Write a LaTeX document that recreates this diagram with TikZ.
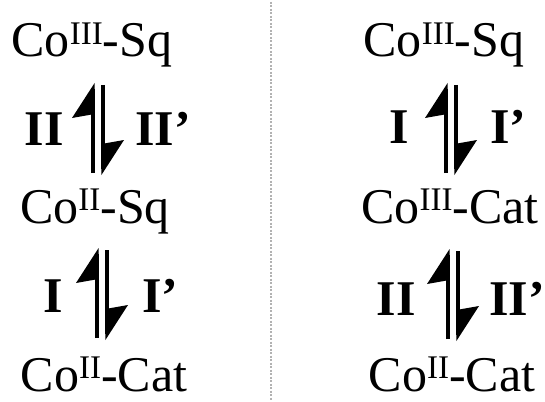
\documentclass[tikz,border=0pt]{standalone}
\usepackage{fontspec}
\setmainfont{Liberation Serif}
\usetikzlibrary{calc}
\tikzset{
  species/.style={inner sep=0pt, anchor=base, font=\fontsize{50}{56}\selectfont},
  lbl/.style={inner sep=0pt, font=\fontsize{50}{56}\selectfont\bfseries},
  bar/.style={line width=3.2pt},
  divider/.style={gray!60, line width=1.5pt, dash pattern=on 2pt off 1.5pt},
}
\newcommand\ox[1]{\raisebox{0.25em}{\fontsize{33}{33}\selectfont #1}}
% pair of harpoons around a centre coordinate: up on the left, down on the right
\newcommand\eqharp[1]{%
  \draw[bar] ($(#1)+(-5,44)$) -- ($(#1)+(-5,-40)$);
  \fill ($(#1)+(-3.4,-46)$) -- ($(#1)+(-26,-11)$) -- ($(#1)+(-3.4,-15)$) -- cycle;
  \draw[bar] ($(#1)+(5,-44)$) -- ($(#1)+(5,40)$);
  \fill ($(#1)+(3.4,46)$) -- ($(#1)+(26,11)$) -- ($(#1)+(3.4,15)$) -- cycle;
}

\begin{document}
\begin{tikzpicture}[x=1pt, y=-1pt]
  \useasboundingbox (0,0) rectangle (545,401);

  % divider
  \coordinate (dtop) at (271,2);
  \coordinate (dbot) at (271,400);
  \draw[divider] (dtop) -- (dbot);

  % left column
  \node[species] (l1) at (92,57) {Co\ox{III}-Sq};
  \node[species] (l2) at (95,223) {Co\ox{II}-Sq};
  \node[species] (l3) at (104,391) {Co\ox{II}-Cat};
  \coordinate (eqL1) at (98,129);
  \coordinate (eqL2) at (102,294);
  \eqharp{eqL1}
  \eqharp{eqL2}
  \node[lbl, anchor=base east] (l1a) at (64,145) {II};
  \node[lbl, anchor=base west] (l1b) at (135,145) {II'};
  \node[lbl, anchor=base east] (l2a) at (63,312) {I};
  \node[lbl, anchor=base west] (l2b) at (142,312) {I'};

  % right column
  \node[species] (r1) at (444,57) {Co\ox{III}-Sq};
  \node[species] (r2) at (450,223) {Co\ox{III}-Cat};
  \node[species] (r3) at (452,391) {Co\ox{II}-Cat};
  \coordinate (eqR1) at (451,129);
  \coordinate (eqR2) at (453,295);
  \eqharp{eqR1}
  \eqharp{eqR2}
  \node[lbl, anchor=base east] (r1a) at (409,143) {I};
  \node[lbl, anchor=base west] (r1b) at (490,143) {I'};
  \node[lbl, anchor=base east] (r2a) at (416,315) {II};
  \node[lbl, anchor=base west] (r2b) at (489,315) {II'};
\end{tikzpicture}
\end{document}
